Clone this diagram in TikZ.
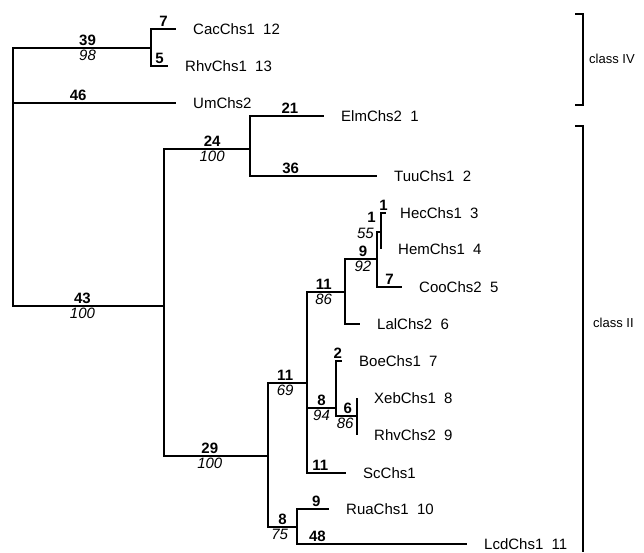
\documentclass[tikz,border=0pt]{standalone}
\usepackage{fontspec}
\setmainfont{Liberation Sans}
\usetikzlibrary{positioning}
\begin{document}
\begin{tikzpicture}[
  x=1pt, y=-1pt,
  node distance=17pt,
  branch/.style={line width=1.6pt},
  taxon/.style={inner sep=0pt, font=\fontsize{15}{18}\selectfont},
  bnum/.style={above, inner sep=1.5pt, font=\fontsize{15}{17}\selectfont\bfseries},
  bsup/.style={below, inner sep=1.5pt, font=\fontsize{15}{17}\selectfont\itshape},
  clade/.style={line width=1.4pt},
  cname/.style={inner sep=0pt, anchor=west, font=\fontsize{13}{15}\selectfont}
]
\useasboundingbox (0,0) rectangle (644,552);

% internal nodes
\coordinate (root) at (13,103);
\coordinate (n39)  at (151,48);
\coordinate (n43)  at (164,306);
\coordinate (n24)  at (250,149);
\coordinate (n29)  at (268,456);
\coordinate (n69)  at (307,383);
\coordinate (n86)  at (345,292);
\coordinate (n92)  at (377,259);
\coordinate (n55)  at (381,232);
\coordinate (n94)  at (336,408);
\coordinate (n86b) at (357,416);
\coordinate (n75)  at (297,527);

% tips
\coordinate (tCac)  at (176,29);
\coordinate (tRhv1) at (168,66);
\coordinate (tUm)   at (176,103);
\coordinate (tElm)  at (324,116);
\coordinate (tTuu)  at (377,176);
\coordinate (tHec)  at (386,213);
\coordinate (tHem)  at (381,249);
\coordinate (tCoo)  at (402,287);
\coordinate (tLal)  at (360,324);
\coordinate (tBoe)  at (342,361);
\coordinate (tXeb)  at (357,398);
\coordinate (tRhv2) at (357,435);
\coordinate (tSc)   at (346,473);
\coordinate (tRua)  at (329,509);
\coordinate (tLcd)  at (467,544);

\node[taxon, anchor=west, right=of tCac]  (Cac)  {CacChs1~~12};
\node[taxon, anchor=west, right=of tRhv1] (Rhv1) {RhvChs1~~13};
\node[taxon, anchor=west, right=of tUm]   (Um)   {UmChs2};
\node[taxon, anchor=west, right=of tElm]  (Elm)  {ElmChs2~~1};
\node[taxon, anchor=west, right=of tTuu]  (Tuu)  {TuuChs1~~2};
\node[taxon, anchor=west, right=14pt of tHec] (Hec) {HecChs1~~3};
\node[taxon, anchor=west, right=of tHem]  (Hem)  {HemChs1~~4};
\node[taxon, anchor=west, right=of tCoo]  (Coo)  {CooChs2~~5};
\node[taxon, anchor=west, right=of tLal]  (Lal)  {LalChs2~~6};
\node[taxon, anchor=west, right=of tBoe]  (Boe)  {BoeChs1~~7};
\node[taxon, anchor=west, right=of tXeb]  (Xeb)  {XebChs1~~8};
\node[taxon, anchor=west, right=of tRhv2] (Rhv2) {RhvChs2~~9};
\node[taxon, anchor=west, right=of tSc]   (Sc)   {ScChs1};
\node[taxon, anchor=west, right=of tRua]  (Rua)  {RuaChs1~~10};
\node[taxon, anchor=west, right=of tLcd]  (Lcd)  {LcdChs1~~11};

% class IV
\draw[branch] (root) |- node[bnum,pos=.77]{39} node[bsup,pos=.77]{98} (n39);
\draw[branch] (n39) |- node[bnum,pos=.75]{7} (tCac);
\draw[branch] (n39) |- node[bnum,pos=.75]{5} (tRhv1);
\draw[branch] (root) |- node[bnum,pos=.7]{46} (tUm);

% class II
\draw[branch] (root) |- node[bnum,pos=.73]{43} node[bsup,pos=.73]{100} (n43);
\draw[branch] (n43) |- node[bnum,pos=.78]{24} node[bsup,pos=.78]{100} (n24);
\draw[branch] (n24) |- node[bnum,pos=.77]{21} (tElm);
\draw[branch] (n24) |- node[bnum,pos=.66]{36} (tTuu);
\draw[branch] (n43) |- node[bnum,pos=.72]{29} node[bsup,pos=.72]{100} (n29);
\draw[branch] (n29) |- node[bnum,pos=.72]{11} node[bsup,pos=.72]{69} (n69);
\draw[branch] (n69) |- node[bnum,pos=.72]{11} node[bsup,pos=.72]{86} (n86);
\draw[branch] (n86) |- node[bnum,pos=.78]{9} node[bsup,pos=.78]{92} (n92);
\draw[branch] (n92) |- node[bnum,pos=.75,anchor=south east,xshift=-1pt,yshift=7pt]{1}
                       node[bsup,pos=.75,anchor=east,xshift=-3pt,yshift=-1pt]{55} (n55);
\draw[branch] (n55) |- node[bnum,pos=.75]{1} (tHec);
\draw[branch] (n55) |- (tHem);
\draw[branch] (n92) |- node[bnum,pos=.75]{7} (tCoo);
\draw[branch] (n86) |- (tLal);
\draw[branch] (n69) |- node[bnum,pos=.75]{8} node[bsup,pos=.75]{94} (n94);
\draw[branch] (n94) |- node[bnum,pos=.65]{2} (tBoe);
\draw[branch] (n94) |- node[bnum,pos=.78]{6} node[bsup,pos=.72]{86} (n86b);
\draw[branch] (n86b) |- (tXeb);
\draw[branch] (n86b) |- (tRhv2);
\draw[branch] (n69) |- node[bnum,pos=.67]{11} (tSc);
\draw[branch] (n29) |- node[bnum,pos=.75]{8} node[bsup,pos=.7]{75} (n75);
\draw[branch] (n75) |- node[bnum,pos=.8]{9} (tRua);
\draw[branch] (n75) |- node[bnum,pos=.56]{48} (tLcd);

% brackets
\coordinate (c4a) at (575,14);
\coordinate (c4b) at (575,105);
\draw[clade] (c4a) -- ++(8,0) |- (c4b);
\node[cname] (cIV) at (589,59) {class IV};
\coordinate (c2a) at (575,126);
\coordinate (c2b) at (583,552);
\draw[clade] (c2a) -| (c2b);
\node[cname] (cII) at (593,323) {class II};
\end{tikzpicture}
\end{document}
